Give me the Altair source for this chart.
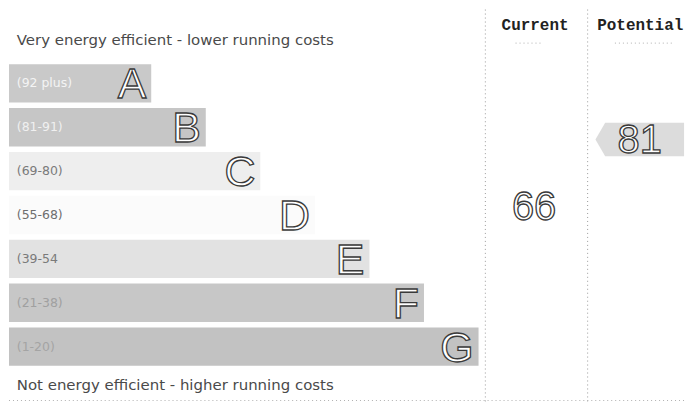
import altair as alt
import pandas as pd

# ---- chart content ----
letters = ["A", "B", "C", "D", "E", "F", "G"]
range_labels = ["(92 plus)", "(81-91)", "(69-80)", "(55-68)", "(39-54", "(21-38)", "(1-20)"]
band_min = [92, 81, 69, 55, 39, 21, 1]
columns = ["Current", "Potential"]
ratings = [66, 81]
top_caption = "Very energy efficient - lower running costs"
bottom_caption = "Not energy efficient - higher running costs"


def band_of(v):
    return next(i for i, m in enumerate(band_min) if v >= m)


bands = pd.DataFrame({"letter": letters, "range": range_labels, "idx": list(range(len(letters)))})
marks = pd.DataFrame({"col": columns, "value": ratings, "band": [band_of(v) for v in ratings]})

# layout scales in reference-pixel units
xs = alt.Scale(domain=[0, 696], nice=False, zero=False)
ys = alt.Scale(domain=[0, 410], nice=False, zero=False, reverse=True)

base = alt.Chart(bands).transform_calculate(
    top="57 + 45.8 * datum.idx",
).transform_calculate(
    bottom="datum.top + 40",
    mid="datum.top + 20",
    len="146 + 56 * datum.idx",
    x0="0",
    lx="8",
)

fill_scale = alt.Scale(domain=letters,
                       range=["#c9c9c9", "#c6c6c6", "#eeeeee", "#fbfbfb", "#e2e2e2", "#c7c7c7", "#c2c2c2"])
label_scale = alt.Scale(domain=letters,
                        range=["#f4f4f4", "#f0f0f0", "#7a7a7a", "#6e6e6e", "#7a7a7a", "#a0a0a0", "#a4a4a4"])

bars = base.mark_rect().encode(
    x=alt.X("x0:Q", scale=xs, axis=None),
    x2="len:Q",
    y=alt.Y("top:Q", scale=ys, axis=None),
    y2="bottom:Q",
    color=alt.Color("letter:N", scale=fill_scale, legend=None),
)

letter_text = base.mark_text(
    align="right", baseline="middle", font="Liberation Sans", fontSize=43,
    fill="#ffffff", stroke="#3a3a3a", strokeWidth=1.3, dx=-5, dy=2,
).encode(
    x=alt.X("len:Q", scale=xs), y=alt.Y("mid:Q", scale=ys), text="letter:N"
)

range_text = base.mark_text(
    align="left", baseline="middle", font="DejaVu Sans", fontSize=12.5,
).encode(
    x=alt.X("lx:Q", scale=xs), y=alt.Y("mid:Q", scale=ys), text="range:N",
    color=alt.Color("letter:N", scale=label_scale, legend=None),
)

# captions
caps = pd.DataFrame({"txt": [top_caption, bottom_caption], "row": [-1, 7]})
cap_text = alt.Chart(caps).transform_calculate(
    cy="datum.row < 0 ? 32 : 392", cx="8"
).mark_text(align="left", baseline="middle", font="DejaVu Sans", fontSize=15, color="#4a4a4a").encode(
    x=alt.X("cx:Q", scale=xs), y=alt.Y("cy:Q", scale=ys), text="txt:N"
)

# column headers
hdr = alt.Chart(marks).transform_calculate(
    cx="datum.col == 'Current' ? 540 : 648", cy="16"
).mark_text(align="center", baseline="middle", font="Liberation Mono", fontWeight="bold",
            fontSize=16, color="#222").encode(
    x=alt.X("cx:Q", scale=xs), y=alt.Y("cy:Q", scale=ys), text="col:N"
)

# rating markers
mk = alt.Chart(marks).transform_calculate(
    top="57 + 45.8 * datum.band",
).transform_calculate(
    cx="datum.col == 'Current' ? 539 : 647.5",
    cy="datum.col == 'Current' ? datum.top + 10.6 : datum.top + 32.7",
)
arrow = mk.transform_filter("datum.col == 'Potential'").mark_point(
    shape="M -1 0 L -0.78 -0.378 L 1 -0.378 L 1 0.378 L -0.78 0.378 Z",
    filled=True, size=7900, color="#dcdcdc", opacity=1,
).encode(x=alt.X("cx:Q", scale=xs), y=alt.Y("cy:Q", scale=ys))

rating_text = mk.mark_text(
    align="center", baseline="middle", font="Liberation Sans", fontSize=40,
    fill="#ffffff", stroke="#3a3a3a", strokeWidth=1.3, dy=2,
).encode(x=alt.X("cx:Q", scale=xs), y=alt.Y("cy:Q", scale=ys), text="value:Q")

# dotted frame lines
vlines = pd.DataFrame({"lx": [489, 594]})
vrules = alt.Chart(vlines).transform_calculate(y0="0", y1="410").mark_rule(
    color="#9a9a9a", strokeDash=[1, 3], strokeWidth=1
).encode(x=alt.X("lx:Q", scale=xs), y=alt.Y("y0:Q", scale=ys), y2="y1:Q")

hl = pd.DataFrame({"a": [0, 520, 622], "b": [696, 548, 682], "yy": [408, 35, 35]})
hrules = alt.Chart(hl).mark_rule(color="#b0b0b0", strokeDash=[1, 3], strokeWidth=1).encode(
    x=alt.X("a:Q", scale=xs), x2="b:Q", y=alt.Y("yy:Q", scale=ys)
)

chart = alt.layer(
    bars, range_text, letter_text, cap_text, vrules, hrules, hdr, arrow, rating_text
).resolve_scale(color="independent").properties(
    width=680, height=394, padding=0
).configure(background="white", view=alt.ViewConfig(stroke=None))

chart.save("out.html", embed_options={"renderer": "svg", "actions": False})
